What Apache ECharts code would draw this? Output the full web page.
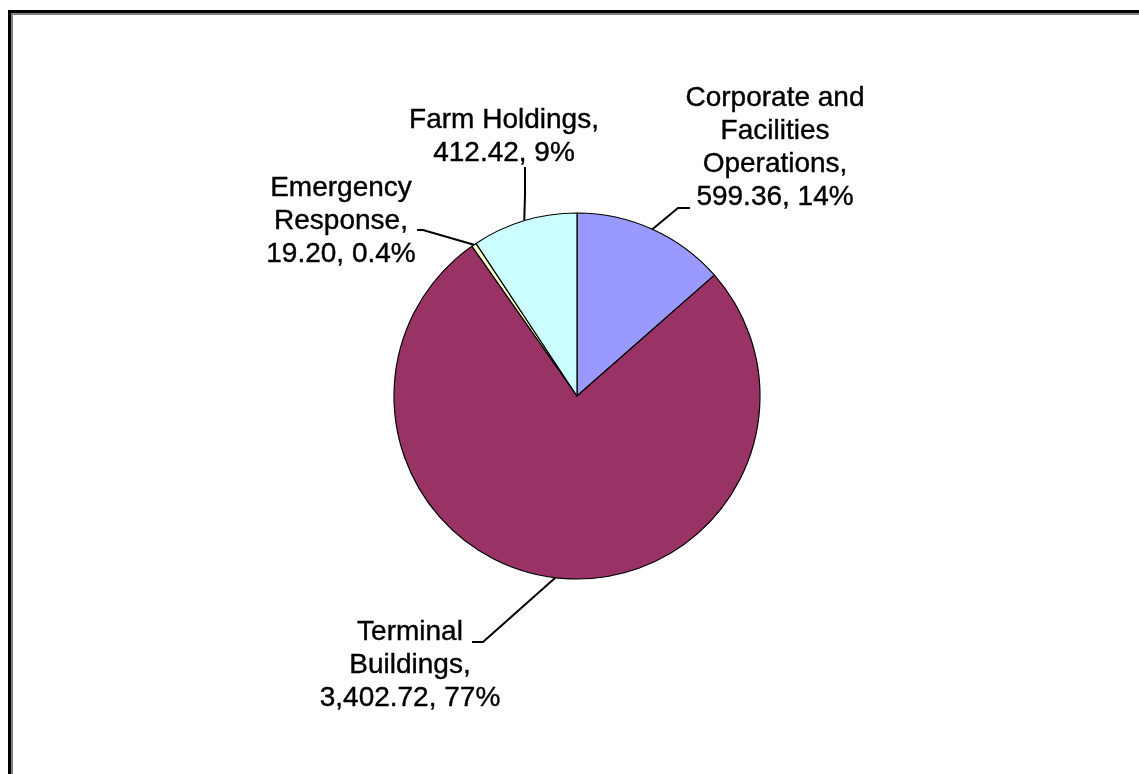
<!DOCTYPE html>
<html>
<head>
<meta charset="utf-8">
<script src="https://cdn.jsdelivr.net/npm/echarts@6/dist/echarts.min.js"></script>
<style>
  html, body { margin: 0; padding: 0; background: #fff; }
  #chart { width: 1139px; height: 774px; }
</style>
</head>
<body>
<div id="chart"></div>
<script>
// data
const names = ['Corporate and\nFacilities\nOperations', 'Terminal\nBuildings', 'Emergency\nResponse', 'Farm Holdings']
const values = [599.36, 3402.72, 19.2, 412.42]
const colors = ['#9999FF', '#993366', '#FFFFCC', '#CCFFFF']

// label placement (x = text centre, y = top of text block)
const labelPos = [[775, 82], [410, 616], [341, 172], [504, 104]]
// leader line bend + end point for each label (start comes from the pie)
const guideEnd = [[[678, 208], [690, 208]], [[483, 642], [472, 642]], [[423, 230], [417, 230]], [[525, 194], [525, 167]]]

const total = values.reduce((a, b) => a + b, 0)
function fmtPct (v) {
  let p = v / total * 100
  return (p < 1 ? p.toFixed(1) : Math.round(p)) + '%'
}
function fmtVal (v) {
  return v.toLocaleString('en-US', { minimumFractionDigits: 2, maximumFractionDigits: 2 })
}

const myChart = echarts.init(document.getElementById('chart'))
let opt = {
  backgroundColor: '#fff',
  animation: false,
  graphic: [
    { type: 'rect', shape: { x: 8, y: 10, width: 1131, height: 3 }, style: { fill: '#000' } },
    { type: 'rect', shape: { x: 11, y: 13, width: 1128, height: 2 }, style: { fill: '#808080' } },
    { type: 'rect', shape: { x: 8, y: 10, width: 3, height: 764 }, style: { fill: '#000' } },
    { type: 'rect', shape: { x: 11, y: 13, width: 2, height: 761 }, style: { fill: '#808080' } }
  ],
  series: [{
    type: 'pie',
    center: [577, 396],
    radius: 183,
    startAngle: 90,
    clockwise: true,
    avoidLabelOverlap: false,
    itemStyle: {
      borderColor: '#000',
      borderWidth: 1.2
    },
    label: {
      show: true,
      color: '#000',
      fontFamily: 'Liberation Sans, Arial, sans-serif',
      fontSize: 28,
      lineHeight: 33,
      align: 'center',
      textBorderColor: '#000',
      textBorderWidth: 0.4,
      formatter: p => p.name + ',\n' + fmtVal(p.value) + ', ' + fmtPct(p.value)
    },
    labelLine: {
      show: true,
      lineStyle: { color: '#000', width: 2 }
    },
    labelLayout: params => {
      let i = params.dataIndex
      let pos = labelPos[i]
      let start = params.labelLinePoints ? params.labelLinePoints[0] : guideEnd[i][0]
      return {
        x: pos[0],
        y: pos[1],
        align: 'center',
        verticalAlign: 'top',
        labelLinePoints: [start, guideEnd[i][0], guideEnd[i][1]]
      }
    },
    emphasis: { disabled: true },
    data: names.map((n, i) => ({ name: n, value: values[i], itemStyle: { color: colors[i] } }))
  }]
}
myChart.setOption(opt)
</script>
</body>
</html>
